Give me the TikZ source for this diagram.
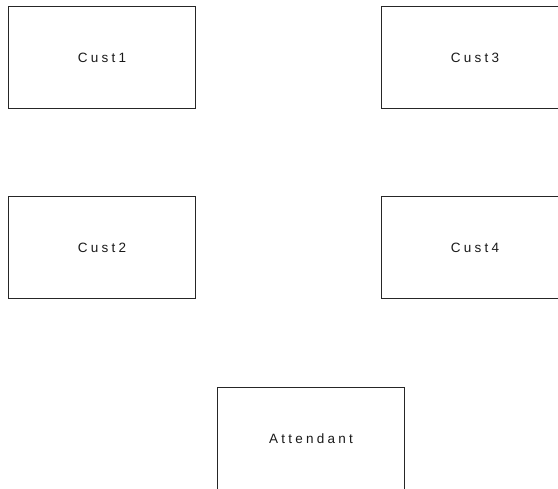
\documentclass[tikz,border=0pt]{standalone}
\usepackage{fontspec}
\setmainfont{Liberation Sans}
\newfontfamily\boxfont[LetterSpace=24]{Liberation Sans}
\begin{document}
\begin{tikzpicture}[x=1pt,y=-1pt]
\tikzset{
  custbox/.style={draw=black!85, line width=0.9pt, rectangle, minimum width=187pt, minimum height=102pt,
    inner sep=0pt, font=\boxfont\fontsize{13.5}{15}\selectfont, text=black!90, anchor=north west}
}
\useasboundingbox (0,0) rectangle (558,489);
\clip (0,0) rectangle (558,489);
\node[custbox] (c1) at (8,6) {Cust1};
\node[custbox] (c3) at (381,6) {Cust3};
\node[custbox] (c2) at (8,196) {Cust2};
\node[custbox] (c4) at (381,196) {Cust4};
\node[custbox] (att) at (217,387) {Attendant};
\end{tikzpicture}
\end{document}
